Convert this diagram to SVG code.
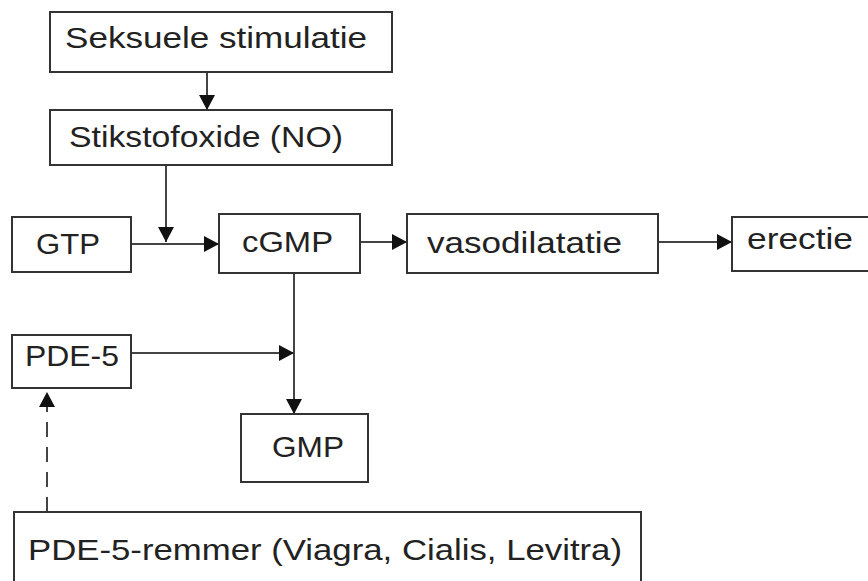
<svg xmlns="http://www.w3.org/2000/svg" width="868" height="581" viewBox="0 0 868 581">
<style>
.box{fill:#fff;stroke:#333;stroke-width:2}
.t{font-family:"Liberation Sans",Arial,sans-serif;font-size:29px;fill:#222}
.c{stroke:#444;stroke-width:2;fill:none}
.d{stroke:#444;stroke-width:2;fill:none;stroke-dasharray:15 10}
</style>
<defs>
<marker id="ah" markerUnits="userSpaceOnUse" markerWidth="16" markerHeight="16" viewBox="0 0 16 16" refX="15" refY="8" orient="auto">
<path d="M0,0 L15,8 L0,16 Z" fill="#111"/>
</marker>
</defs>
<rect width="868" height="581" fill="#fff"/>
<g id="connectors">
<line class="c" x1="207" y1="72" x2="207" y2="110" marker-end="url(#ah)"/>
<line class="c" x1="166" y1="165" x2="166" y2="242" marker-end="url(#ah)"/>
<line class="c" x1="131" y1="244" x2="219" y2="244" marker-end="url(#ah)"/>
<line class="c" x1="360" y1="242" x2="407" y2="242" marker-end="url(#ah)"/>
<line class="c" x1="658" y1="242" x2="732" y2="242" marker-end="url(#ah)"/>
<line class="c" x1="294" y1="273" x2="294" y2="414" marker-end="url(#ah)"/>
<line class="c" x1="131" y1="353" x2="294" y2="353" marker-end="url(#ah)"/>
<line class="d" x1="47" y1="512" x2="47" y2="392" marker-end="url(#ah)"/>
</g>
<g id="seksuele">
<rect class="box" x="50" y="12" width="342" height="60"/>
<text class="t" x="65" y="48" textLength="302" lengthAdjust="spacingAndGlyphs">Seksuele stimulatie</text>
</g>
<g id="no">
<rect class="box" x="50" y="110" width="342" height="55"/>
<text class="t" x="69" y="147" textLength="274" lengthAdjust="spacingAndGlyphs">Stikstofoxide (NO)</text>
</g>
<g id="gtp">
<rect class="box" x="12" y="217" width="119" height="55"/>
<text class="t" x="36" y="254" textLength="64" lengthAdjust="spacingAndGlyphs">GTP</text>
</g>
<g id="cgmp">
<rect class="box" x="219" y="214" width="141" height="59"/>
<text class="t" x="242" y="252" textLength="91" lengthAdjust="spacingAndGlyphs">cGMP</text>
</g>
<g id="vasodilatatie">
<rect class="box" x="407" y="214" width="251" height="59"/>
<text class="t" x="427" y="253" textLength="195" lengthAdjust="spacingAndGlyphs">vasodilatatie</text>
</g>
<g id="erectie">
<rect class="box" x="732" y="217" width="150" height="54"/>
<text class="t" x="747" y="249" textLength="106" lengthAdjust="spacingAndGlyphs">erectie</text>
</g>
<g id="pde5">
<rect class="box" x="12" y="335" width="119" height="53"/>
<text class="t" x="25" y="366" textLength="94" lengthAdjust="spacingAndGlyphs">PDE-5</text>
</g>
<g id="gmp">
<rect class="box" x="241" y="414" width="127" height="68"/>
<text class="t" x="272" y="457" textLength="72" lengthAdjust="spacingAndGlyphs">GMP</text>
</g>
<g id="remmer">
<rect class="box" x="14" y="512" width="627" height="80"/>
<text class="t" x="28" y="560" textLength="594" lengthAdjust="spacingAndGlyphs">PDE-5-remmer (Viagra, Cialis, Levitra)</text>
</g>
</svg>
